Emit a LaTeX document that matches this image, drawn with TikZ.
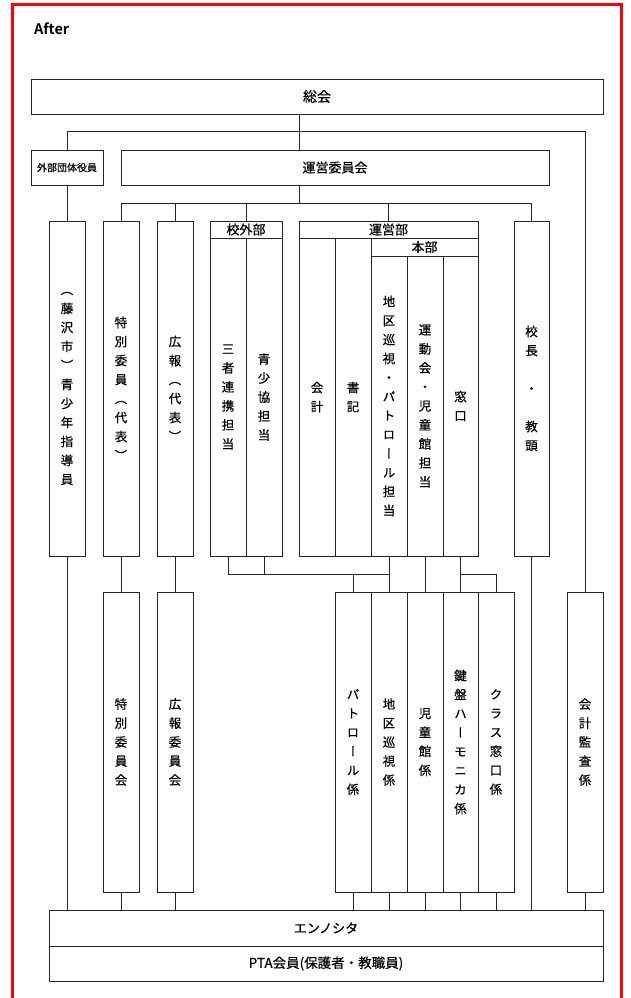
\documentclass[tikz,border=0pt]{standalone}
\usepackage{fontspec}
\setmainfont{Noto Sans CJK JP}[FakeBold=0.5]
\newfontfamily\vfont{Noto Sans CJK JP}[RawFeature=+vert,FakeBold=0.5]
\newfontfamily\afterfont{Noto Sans CJK JP Bold}
\begin{document}
\begin{tikzpicture}[x=1pt,y=-1pt,
  box/.style={draw=black!85, line width=0.9pt, inner sep=0pt, align=center, font=\fontsize{13}{15}\selectfont},
  vbox/.style={box, font=\vfont\fontsize{12.5}{19}\selectfont},
  sz/.style 2 args={minimum width=#1pt, minimum height=#2pt},
  ln/.style={draw=black!85, line width=0.9pt}]
\useasboundingbox (0,0) rectangle (630,998);
\fill[white] (0,0) rectangle (630,998);
\draw[red, line width=3pt] (12,1010) -- (12,5) -- (621,5) -- (621,1010);
\node[anchor=west, inner sep=0pt, font=\afterfont\fontsize{14.5}{16}\selectfont] (after) at (34,29) {After};

\node[box,sz={572}{35},font=\fontsize{14}{16}\selectfont] (soukai) at (317,96.5) {総会};
\node[box,sz={72}{35},font=\fontsize{10}{12}\selectfont] (gaibu) at (67,167.5) {外部団体役員};
\node[box,sz={428}{35}] (unei) at (335,167.5) {運営委員会};

\node[vbox,sz={36}{335}] (fuji) at (67,388.5) {︵\\藤\\沢\\市\\︶\\青\\少\\年\\指\\導\\員};
\node[vbox,sz={36}{335}] (toku) at (121,388.5) {特\\別\\委\\員\\︵\\代\\表\\︶};
\node[vbox,sz={36}{335}] (kouhou) at (175,388.5) {広\\報\\︵\\代\\表\\︶};
\node[box,sz={72}{17}] (kougai) at (246,229.5) {校外部};
\node[vbox,sz={36}{318}] (sansha) at (228,397) {三\\者\\連\\携\\担\\当};
\node[vbox,sz={36}{318}] (seishou) at (264,397) {青\\少\\協\\担\\当};
\node[box,sz={179}{17}] (uneibu) at (388.5,229.5) {運営部};
\node[vbox,sz={36}{318}] (kaikei) at (317,397) {会\\計};
\node[vbox,sz={36}{318}] (shoki) at (353,397) {書\\記};
\node[box,sz={107}{18}] (honbu) at (424.5,247) {本部};
\node[vbox,sz={36}{300}] (chiku) at (389,406) {地\\区\\巡\\視\\・\\パ\\ト\\ロ\\ー\\ル\\担\\当};
\node[vbox,sz={36}{300}] (undou) at (425,406) {運\\動\\会\\・\\児\\童\\館\\担\\当};
\node[vbox,sz={35}{300}] (mado) at (460.5,406) {窓\\口};
\node[vbox,sz={35}{335}] (kouchou) at (531.5,388.5) {校\\長\\[19pt]・\\[19pt]教\\頭};

\node[vbox,sz={36}{300}] (tokuiin) at (121,742) {特\\別\\委\\員\\会};
\node[vbox,sz={36}{300}] (kouhouiin) at (175,742) {広\\報\\委\\員\\会};
\node[vbox,sz={36}{300}] (patrol) at (353,742) {パ\\ト\\ロ\\ー\\ル\\係};
\node[vbox,sz={36}{300}] (chikuj) at (389,742) {地\\区\\巡\\視\\係};
\node[vbox,sz={36}{300}] (jidou) at (425,742) {児\\童\\館\\係};
\node[vbox,sz={35}{300}] (kenban) at (460.5,742) {鍵\\盤\\ハ\\ー\\モ\\ニ\\カ\\係};
\node[vbox,sz={36}{300}] (class) at (496,742) {ク\\ラ\\ス\\窓\\口\\係};
\node[vbox,sz={36}{300}] (kansa) at (585,742) {会\\計\\監\\査\\係};
\node[box,sz={554}{36}] (enno) at (326,928) {エンノシタ};
\node[box,sz={554}{35},font=\fontsize{13.5}{15}\selectfont] (pta) at (326,963.5) {PTA会員(保護者・教職員)};

\coordinate (s1) at (299,131);
\coordinate (busB) at (0,203);
\coordinate (busC) at (0,574);

\draw[ln] (soukai.south -| s1) -- (unei.north -| s1);
\draw[ln] (gaibu.north) |- (kansa.north |- s1) -- (kansa.north);
\draw[ln] (unei.south -| s1) -- (s1 |- busB);
\draw[ln] (toku.north) |- (kouchou.north |- busB) -- (kouchou.north);
\draw[ln] (kouhou.north) -- (kouhou.north |- busB);
\draw[ln] (kougai.north) -- (kougai.north |- busB);
\draw[ln] (uneibu.north) -- (uneibu.north |- busB);
\draw[ln] (gaibu.south) -- (fuji.north);
\draw[ln] (fuji.south) -- (fuji.south |- enno.north);
\draw[ln] (toku.south) -- (tokuiin.north);
\draw[ln] (kouhou.south) -- (kouhouiin.north);
\draw[ln] (kouchou.south) -- (kouchou.south |- enno.north);
\foreach \n in {tokuiin,kouhouiin,patrol,chikuj,jidou,kenban,class,kansa}
  \draw[ln] (\n.south) -- (\n.south |- enno.north);
\draw[ln] (sansha.south) |- (chiku.south |- busC);
\draw[ln] (seishou.south) -- (seishou.south |- busC);
\draw[ln] (chiku.south) -- (chikuj.north);
\draw[ln] (patrol.north) -- (patrol.north |- busC);
\draw[ln] (undou.south) -- (jidou.north);
\draw[ln] (mado.south) -- (kenban.north);
\draw[ln] (mado.south |- busC) -| (class.north);
\end{tikzpicture}
\end{document}
